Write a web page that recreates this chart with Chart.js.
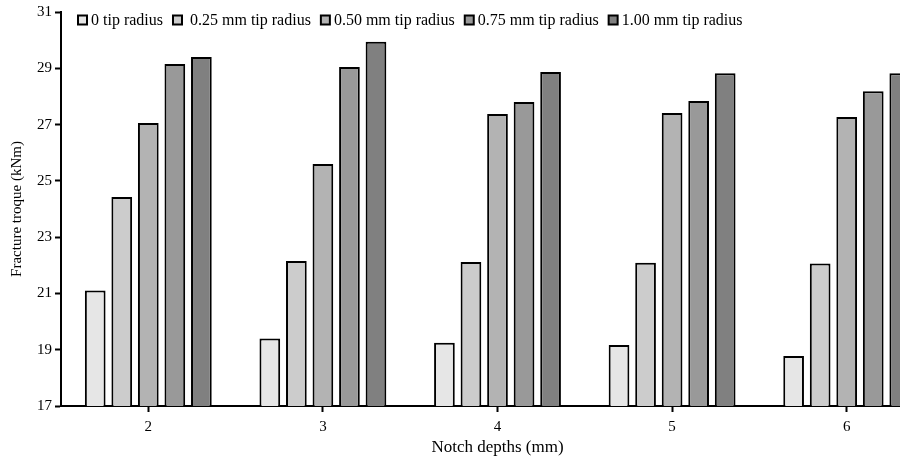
<!DOCTYPE html>
<html>
<head>
<meta charset="utf-8">
<title>Fracture torque by notch depth</title>
<script src="https://cdn.jsdelivr.net/npm/chart.js@4.4.0/dist/chart.umd.min.js"></script>
<style>
  html, body { margin: 0; padding: 0; background: #fff; }
  #wrap { width: 900px; height: 462px; overflow: hidden; }
</style>
</head>
<body>
<div id="wrap"><canvas id="torque-chart" width="934" height="462"></canvas></div>
<script>
// Fracture torque (kNm) for each notch depth, one array per tip radius
const notchDepths = ['2', '3', '4', '5', '6'];
const tipRadius0 = [21.1, 19.4, 19.25, 19.17, 18.78];
const tipRadius025 = [24.43, 22.15, 22.12, 22.09, 22.06];
const tipRadius050 = [27.06, 25.6, 27.38, 27.41, 27.27];
const tipRadius075 = [29.15, 29.05, 27.8, 27.84, 28.18];
const tipRadius100 = [29.4, 29.94, 28.87, 28.82, 28.82];

const seriesNames = ['0 tip radius', ' 0.25 mm tip radius', '0.50 mm tip radius', '0.75 mm tip radius', '1.00 mm tip radius'];
const seriesValues = [tipRadius0, tipRadius025, tipRadius050, tipRadius075, tipRadius100];
const seriesFills = ['#e6e6e6', '#cccccc', '#b3b3b3', '#999999', '#808080'];

const yTicks = { min: 17, max: 31, step: 2 };

const serifFont = '"Liberation Serif", "Times New Roman", serif';
Chart.defaults.font.family = serifFont;
Chart.defaults.font.size = 15;
Chart.defaults.color = '#000';

// One-row legend drawn inside the top of the plot area
const inlineLegend = {
  id: 'inlineLegend',
  afterDraw(chart) {
    const { ctx, chartArea } = chart;
    const box = 9;
    let x = chartArea.left + 17;
    const y = chartArea.top + 8;
    ctx.save();
    ctx.font = '16px ' + serifFont;
    ctx.textBaseline = 'middle';
    chart.data.datasets.forEach((ds) => {
      ctx.fillStyle = ds.backgroundColor;
      ctx.fillRect(x, y - box / 2, box, box);
      ctx.lineWidth = 2;
      ctx.strokeStyle = '#000';
      ctx.strokeRect(x, y - box / 2, box, box);
      ctx.fillStyle = '#000';
      ctx.fillText(ds.label, x + box + 4, y + 1);
      x += box + 4 + ctx.measureText(ds.label).width + 10;
    });
    ctx.restore();
  }
};

const ctx = document.getElementById('torque-chart').getContext('2d');

new Chart(ctx, {
  type: 'bar',
  data: {
    labels: notchDepths,
    datasets: seriesNames.map((name, i) => ({
      label: name,
      data: seriesValues[i],
      backgroundColor: seriesFills[i],
      borderColor: '#000',
      borderWidth: 2,
      borderSkipped: false,
      categoryPercentage: 0.76,
      barPercentage: 0.78
    }))
  },
  options: {
    responsive: false,
    animation: false,
    layout: {
      padding: { top: 12, right: 0, left: 0, bottom: 0 }
    },
    scales: {
      x: {
        grid: {
          offset: false,
          drawOnChartArea: false,
          drawTicks: true,
          tickLength: 6,
          tickWidth: 2,
          color: '#000'
        },
        border: { display: true, color: '#000', width: 2 },
        ticks: { padding: 6, font: { size: 15 } },
        title: {
          display: true,
          text: 'Notch depths (mm)',
          font: { size: 17 },
          padding: { top: 0, bottom: 4 }
        },
        afterFit: (scale) => { scale.height = 56; }
      },
      y: {
        min: yTicks.min,
        max: yTicks.max,
        grid: {
          drawOnChartArea: false,
          drawTicks: true,
          tickLength: 6,
          tickWidth: 2,
          color: '#000'
        },
        border: { display: true, color: '#000', width: 2 },
        ticks: { stepSize: yTicks.step, padding: 3, font: { size: 15 } },
        title: {
          display: true,
          text: 'Fracture troque (kNm)',
          font: { size: 15 },
          padding: { top: 8, bottom: 0 }
        },
        afterFit: (scale) => { scale.width = 61; }
      }
    },
    plugins: {
      legend: { display: false },
      tooltip: { enabled: false }
    }
  },
  plugins: [inlineLegend]
});
</script>
</body>
</html>
